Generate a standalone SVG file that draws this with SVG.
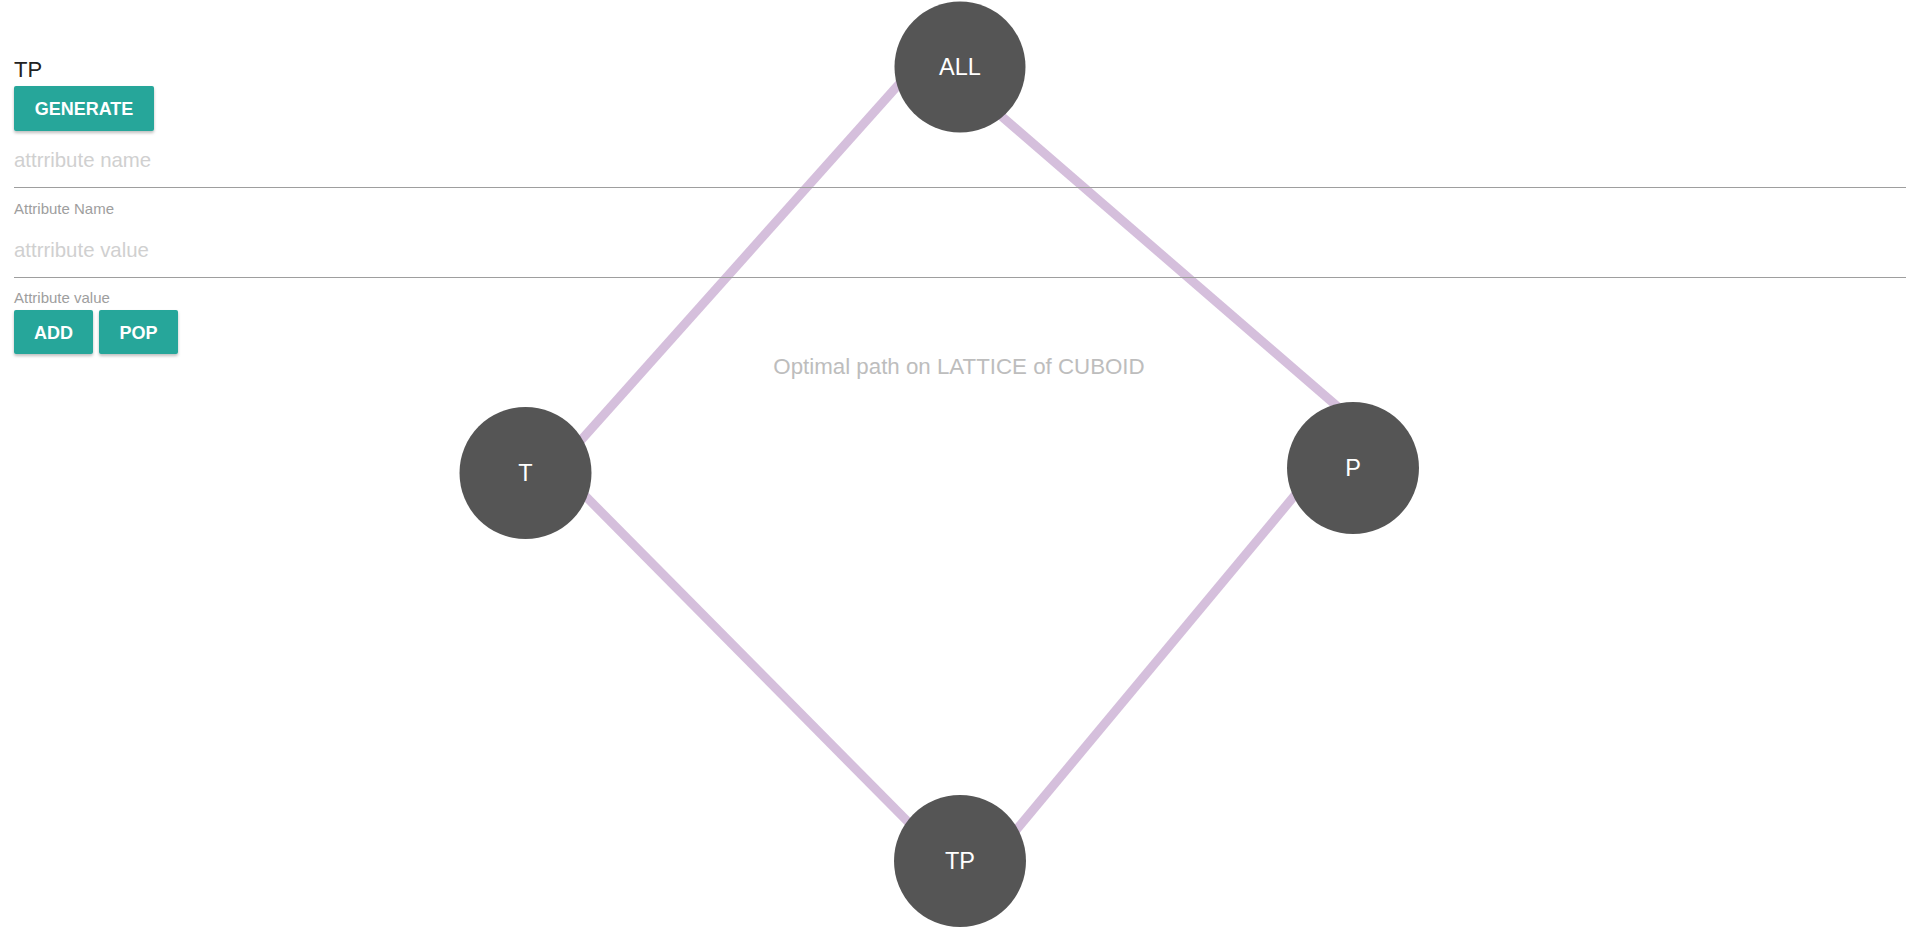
<svg xmlns="http://www.w3.org/2000/svg" width="1920" height="927" viewBox="0 0 1920 927">
  <defs>
    <filter id="shadow" x="-10%" y="-20%" width="120%" height="160%">
      <feDropShadow dx="0" dy="2" stdDeviation="1.5" flood-color="#000" flood-opacity="0.25"/>
    </filter>
  </defs>
  <style>
    .edge { stroke: #d5bfdc; stroke-width: 9; stroke-linecap: butt; }
    .node circle { fill: #555555; }
    .node text { fill: #ffffff; font-family: "Liberation Sans", Arial, sans-serif; font-size: 23.5px; text-anchor: middle; dominant-baseline: central; }
    .btn rect { fill: #26a69a; filter: url(#shadow); }
    .btn text { fill: #ffffff; font-family: "Liberation Sans", Arial, sans-serif; font-size: 18px; font-weight: bold; text-anchor: middle; }
    .ph { fill: #d0d0d0; font-family: "Liberation Sans", Arial, sans-serif; font-size: 20.4px; }
    .lbl { fill: #9e9e9e; font-family: "Liberation Sans", Arial, sans-serif; font-size: 15px; }
    .rule { stroke: #9e9e9e; stroke-width: 1.2; }
  </style>
  <rect width="1920" height="927" fill="#ffffff"/>

  <g id="connectors">
    <line class="edge" x1="914.3" y1="67.1" x2="563.8" y2="459.5"/>
    <line class="edge" x1="982.7" y1="100" x2="1353.6" y2="420.5"/>
    <line class="edge" x1="567.7" y1="478.2" x2="926.6" y2="840.7"/>
    <line class="edge" x1="1310.3" y1="476.7" x2="998" y2="851.9"/>
  </g>

  <text x="959" y="366" fill="#bdbdbd" font-family="Liberation Sans, Arial, sans-serif" font-size="22.3" text-anchor="middle" dominant-baseline="central">Optimal path on LATTICE of CUBOID</text>

  <g id="form">
    <text x="14" y="77" fill="#222222" font-family="Liberation Sans, Arial, sans-serif" font-size="22">TP</text>
    <g class="btn" id="btn-generate">
      <rect x="14" y="86" width="140" height="45" rx="2"/>
      <text x="84" y="114.5">GENERATE</text>
    </g>
    <text class="ph" x="14" y="167">attrribute name</text>
    <line class="rule" x1="14" y1="187.5" x2="1906" y2="187.5"/>
    <text class="lbl" x="14" y="214">Attribute Name</text>
    <text class="ph" x="14" y="257">attrribute value</text>
    <line class="rule" x1="14" y1="277.5" x2="1906" y2="277.5"/>
    <text class="lbl" x="14" y="303">Attribute value</text>
    <g class="btn" id="btn-add">
      <rect x="14" y="310" width="79" height="44" rx="2"/>
      <text x="53.5" y="338.5">ADD</text>
    </g>
    <g class="btn" id="btn-pop">
      <rect x="99" y="310" width="79" height="44" rx="2"/>
      <text x="138.5" y="338.5">POP</text>
    </g>
  </g>

  <g id="node-ALL" class="node">
    <circle cx="960" cy="67" r="65.5"/>
    <text x="960" y="67">ALL</text>
  </g>
  <g id="node-T" class="node">
    <circle cx="525.5" cy="473" r="66"/>
    <text x="525.5" y="473">T</text>
  </g>
  <g id="node-P" class="node">
    <circle cx="1353" cy="468" r="66"/>
    <text x="1353" y="468">P</text>
  </g>
  <g id="node-TP" class="node">
    <circle cx="960" cy="861" r="66"/>
    <text x="960" y="861">TP</text>
  </g>
</svg>
